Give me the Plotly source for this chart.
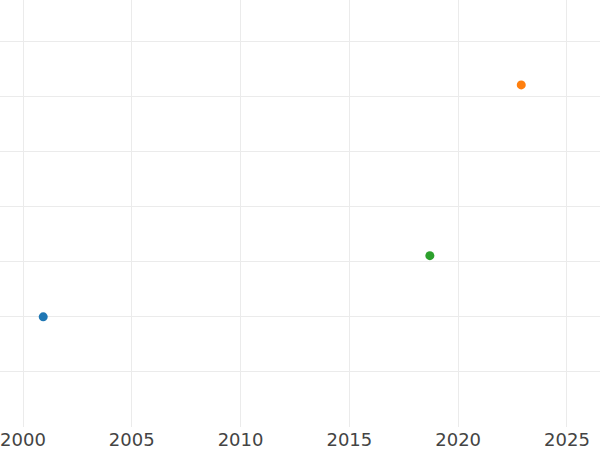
import plotly.graph_objects as go

years = [2000.93, 2022.90, 2018.70]
values = [2.0, 6.21, 3.11]
colors = ["#1f77b4", "#ff7f0e", "#2ca02c"]
names = ["A", "B", "C"]

fig = go.Figure()
for x, y, c, n in zip(years, values, colors, names):
    fig.add_trace(go.Scatter(x=[x], y=[y], mode="markers", name=n,
                             marker=dict(color=c, size=9)))

fig.update_layout(
    width=600, height=450,
    template="none",
    showlegend=False,
    margin=dict(l=0, r=0, t=0, b=23),
    paper_bgcolor="white", plot_bgcolor="white",
    font=dict(family="DejaVu Sans", size=18, color="#444444"),
)
fig.update_xaxes(range=[1998.943, 2026.52], tickvals=[2000, 2005, 2010, 2015, 2020, 2025],
                 ticktext=["2000", "2005", "2010", "2015", "2020", "2025"],
                 showgrid=True, gridcolor="#ebebeb", gridwidth=1, zeroline=False,
                 showline=False, ticks="", automargin=False)
fig.update_yaxes(range=[0, 7.752], dtick=1, showgrid=True, gridcolor="#ebebeb", gridwidth=1,
                 zeroline=False, showline=False, ticks="", showticklabels=False, automargin=False)

fig.write_html("out.html", config={"displayModeBar": False},
               post_script="document.body.style.margin='0';document.body.style.overflow='hidden';")
